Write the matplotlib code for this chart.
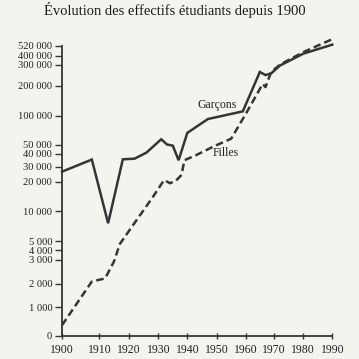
import numpy as np
import matplotlib
matplotlib.use("Agg")
from matplotlib import pyplot as plt

# axis ticks of the original (non uniform) scales
x_ticks = [1900, 1910, 1920, 1930, 1940, 1950, 1960, 1970, 1980, 1990]
y_ticks = [0, 1000, 2000, 3000, 4000, 5000, 10000, 20000, 30000, 40000,
           50000, 100000, 200000, 300000, 400000, 520000]
y_tick_labels = ["0", "1 000", "2 000", "3 000", "4 000", "5 000", "10 000",
                 "20 000", "30 000", "40 000", "50 000", "100 000", "200 000",
                 "300 000", "400 000", "520 000"]

# series
years_garcons = [1900, 1908, 1913, 1918, 1922, 1926, 1931, 1933, 1935, 1937,
                 1940, 1947, 1959, 1965, 1967, 1969, 1972, 1980, 1990]
garcons = [26700, 35400, 8000, 35600, 36100, 41000, 59000, 50000, 48700, 34900,
           70000, 93900, 113800, 266000, 251000, 259000, 297000, 425000, 530000]

years_filles = [1900, 1908, 1912, 1915, 1917, 1921, 1928, 1932, 1934, 1936,
                1938, 1939, 1943, 1949, 1955, 1960, 1966, 1967, 1969, 1972,
                1980, 1990]
filles = [370, 2090, 2220, 2920, 4690, 7360, 14600, 21100, 19500, 20500,
          24500, 34900, 38750, 47900, 60000, 105000, 207500, 194500, 266000,
          303000, 443000, 594000]

# the printed scales are drawn by hand: tick value -> pixel position
x_pix = np.array([62, 99.3, 128.7, 158.3, 187.3, 216.7, 245.7, 274, 303.3, 332.3])
y_vals = np.array(y_ticks + [760000], dtype=float)
y_pix = -np.array([335.8, 307.2, 283.7, 259.5, 250, 241.2, 211.3, 181.7, 166.7,
                   153.5, 144.5, 115.5, 85.5, 65, 55.8, 45.5, 24.9])
x_vals = np.array(x_ticks, dtype=float)


def fwd_x(v):
    return np.interp(v, x_vals, x_pix)


def inv_x(p):
    return np.interp(p, x_pix, x_vals)


def fwd_y(v):
    return np.interp(v, y_vals, y_pix)


def inv_y(p):
    return np.interp(p, y_pix, y_vals)


ink = "#353535"
paper = "#f3f3f0"
plt.rcParams["font.family"] = ["Liberation Serif", "DejaVu Serif"]

W = H = 359
fig = plt.figure(figsize=(W / 100, H / 100), dpi=100, facecolor=paper)
top_pix = 36
ax = fig.add_axes([62 / W, 1 - 335.8 / H, (332.3 - 62) / W, (335.8 - top_pix) / H])
ax.set_facecolor(paper)

ax.set_xscale("function", functions=(fwd_x, inv_x))
ax.set_yscale("function", functions=(fwd_y, inv_y))
ax.set_xlim(1900, 1990)
ax.set_ylim(0, inv_y(-top_pix))

ax.plot(years_garcons, garcons, color=ink, lw=1.8, solid_joinstyle="miter", clip_on=False)
ax.plot(years_filles, filles, color=ink, lw=1.8, linestyle=(0, (3, 1.6)), clip_on=False)

ax.set_xticks(x_ticks)
ax.set_xticklabels([str(t) for t in x_ticks])
ax.set_yticks(y_ticks)
ax.set_yticklabels(y_tick_labels)
ax.minorticks_off()
ax.tick_params(axis="y", direction="out", length=5, width=1, color=ink,
               labelsize=7.6, labelcolor="#222222", pad=2)
ax.tick_params(axis="x", direction="inout", length=4, width=1, color=ink,
               labelsize=8.5, labelcolor="#222222", pad=4)

for side in ("top", "right"):
    ax.spines[side].set_visible(False)
for side in ("left", "bottom"):
    ax.spines[side].set_color(ink)
    ax.spines[side].set_linewidth(1.3)
ax.spines["left"].set_bounds(0, 520000)

fig.text(174.5 / W, 1 - 10 / H, "Évolution des effectifs étudiants depuis 1900",
         ha="center", va="center", fontsize=10.5, color="#1a1a1a")
fig.text(217 / W, 1 - 105 / H, "Garçons", ha="center", va="center",
         fontsize=8.5, color="#222222")
fig.text(225.5 / W, 1 - 152.5 / H, "Filles", ha="center", va="center",
         fontsize=8.5, color="#222222")

fig.savefig("out.png", dpi=100, facecolor=paper)
